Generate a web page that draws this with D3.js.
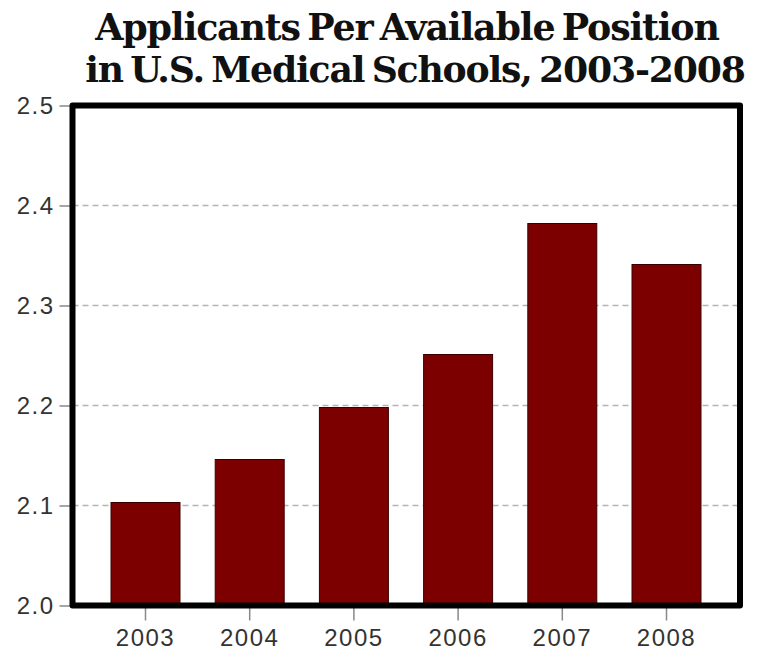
<!DOCTYPE html>
<html>
<head>
<meta charset="utf-8">
<script src="https://cdn.jsdelivr.net/npm/d3@7/dist/d3.min.js"></script>
<style>
  html, body { margin: 0; padding: 0; background: #fff; }
  svg { display: block; }
</style>
</head>
<body>
<svg id="chart" width="757" height="651"></svg>
<script>
// Applicants per available position, U.S. medical schools
const years = ["2003", "2004", "2005", "2006", "2007", "2008"];
const ratios = [2.103, 2.146, 2.198, 2.251, 2.382, 2.341];
const yTicks = [2.0, 2.1, 2.2, 2.3, 2.4, 2.5];
const gridValues = [2.1, 2.2, 2.3, 2.4];
const titleLines = ["Applicants Per Available Position", "in U.S. Medical Schools, 2003-2008"];

const svg = d3.select("#chart");

const frame = { left: 72.5, right: 740, top: 105.5, bottom: 605.5 };

const x = d3.scaleBand()
  .domain(years)
  .range([93.4, 718.6])
  .paddingInner(0.338)
  .paddingOuter(0.169);

const y = d3.scaleLinear()
  .domain([2.0, 2.5])
  .range([605.5, 105.5]);

// Title: two tight bold serif lines, each sized to its target width
const title = svg.append("g")
  .attr("font-family", "'DejaVu Serif', 'Liberation Serif', serif")
  .attr("font-weight", "bold")
  .attr("fill", "#111");
const titleSpecs = [
  { cx: 407, baseline: 40, width: 620 },
  { cx: 415, baseline: 82, width: 656 }
];
titleLines.forEach((t, i) => {
  const el = title.append("text")
    .attr("x", titleSpecs[i].cx)
    .attr("y", titleSpecs[i].baseline)
    .attr("text-anchor", "middle")
    .attr("font-size", 34)
    .attr("letter-spacing", "-1.2px")
    .attr("word-spacing", "-4px")
    .text(t);
  const w = el.node().getComputedTextLength();
  el.attr("font-size", Math.min(38, 34 * titleSpecs[i].width / w));
});

// Dashed gridlines
svg.append("g")
  .selectAll("line")
  .data(gridValues)
  .join("line")
  .attr("x1", frame.left)
  .attr("x2", frame.right)
  .attr("y1", d => y(d))
  .attr("y2", d => y(d))
  .attr("stroke", "#b4b4b4")
  .attr("stroke-width", 1.5)
  .attr("stroke-dasharray", "6,4");

// Bars
svg.append("g")
  .selectAll("rect")
  .data(years.map((yr, i) => ({ yr, v: ratios[i] })))
  .join("rect")
  .attr("x", d => x(d.yr))
  .attr("width", x.bandwidth())
  .attr("y", d => y(d.v))
  .attr("height", d => y(2.0) - y(d.v))
  .attr("fill", "#7c0000")
  .attr("stroke", "#3a0000")
  .attr("stroke-width", 1);

// Left axis (ticks and labels)
const yAxis = d3.axisLeft(y)
  .tickValues(yTicks)
  .tickFormat(d3.format(".1f"))
  .tickSize(13)
  .tickPadding(5);
const gy = svg.append("g")
  .attr("transform", `translate(${frame.left},0)`)
  .call(yAxis);
gy.select(".domain").remove();
gy.selectAll(".tick line").attr("stroke", "#888").attr("stroke-width", 1.5);
gy.selectAll(".tick text")
  .attr("font-family", "'Liberation Sans', Arial, sans-serif")
  .attr("font-size", 24)
  .attr("letter-spacing", "1.5px")
  .attr("fill", "#333");

// Bottom axis (ticks and labels)
const xAxis = d3.axisBottom(x)
  .tickSize(15)
  .tickPadding(8);
const gx = svg.append("g")
  .attr("transform", `translate(0,${frame.bottom})`)
  .call(xAxis);
gx.select(".domain").remove();
gx.selectAll(".tick line").attr("stroke", "#888").attr("stroke-width", 1.5);
gx.selectAll(".tick text")
  .attr("font-family", "'Liberation Sans', Arial, sans-serif")
  .attr("font-size", 24)
  .attr("letter-spacing", "1.5px")
  .attr("fill", "#333");

// Heavy frame around the plot area
svg.append("rect")
  .attr("x", frame.left)
  .attr("y", frame.top)
  .attr("width", frame.right - frame.left)
  .attr("height", frame.bottom - frame.top)
  .attr("fill", "none")
  .attr("stroke", "#000")
  .attr("stroke-width", 6)
  .attr("stroke-linejoin", "round");
</script>
</body>
</html>
